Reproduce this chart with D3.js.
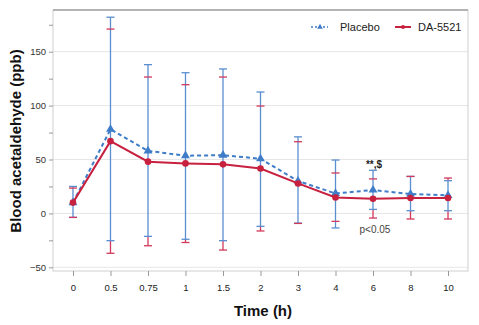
<!DOCTYPE html>
<html>
<head>
<meta charset="utf-8">
<script src="https://cdn.jsdelivr.net/npm/d3@7"></script>
<style>
  html, body { margin: 0; padding: 0; background: #fff; }
  svg { display: block; font-family: "Liberation Sans", Arial, sans-serif; }
</style>
</head>
<body>
<svg id="chart" width="479" height="325"></svg>
<script>
// Sampling times (h) and group data (mean with upper / lower error limits, ppb)
const times = ["0", "0.5", "0.75", "1", "1.5", "2", "3", "4", "6", "8", "10"];

const placeboMean  = [10, 78, 58, 53.5, 54, 50.7, 30, 18.5, 21.7, 18, 16.7];
const placeboUpper = [25, 182, 138, 130.5, 134, 112.6, 71, 49.5, 40, 34.3, 30.3];
const placeboLower = [-3.7, -25.3, -21.3, -24, -25.3, -12, -9, -13.5, 3.7, 2.5, 2.5];

const daMean  = [10, 67, 48, 46.4, 45.5, 41.7, 27.8, 14.8, 13.6, 14.3, 14.3];
const daUpper = [23.5, 171, 126.5, 119.4, 126.5, 99.6, 66.5, 37.5, 32, 34.3, 32.8];
const daLower = [-3.7, -37, -30, -27, -34, -16.3, -9.3, -7.4, -4.3, -5.2, -5.2];

const seriesNames = ["Placebo", "DA-5521"];
const yMajorTicks = [-50, 0, 50, 100, 150];
const yMinorTicks = [-25, 25, 75, 125, 175];

const blue = "#3f7dc8";
const blueBar = "#5a8ed0";
const red = "#c8203f";
const redBar = "#d2385a";

const svg = d3.select("#chart");
const panel = { left: 53, top: 10, right: 468, bottom: 271 };

const x = d3.scalePoint()
  .domain(times)
  .range([panel.left, panel.right])
  .padding(0.533);

const y = d3.scaleLinear()
  .domain([-50, 150])
  .range([267.3, 51.7]);

// Horizontal gridlines at major ticks
svg.append("g")
  .selectAll("line")
  .data(yMajorTicks)
  .join("line")
  .attr("x1", panel.left).attr("x2", panel.right)
  .attr("y1", d => y(d)).attr("y2", d => y(d))
  .attr("stroke", "#e6e6e6").attr("stroke-width", 1);

// Panel frame
svg.append("rect")
  .attr("x", panel.left).attr("y", panel.top)
  .attr("width", panel.right - panel.left)
  .attr("height", panel.bottom - panel.top)
  .attr("fill", "none").attr("stroke", "#cfcfcf").attr("stroke-width", 1);
svg.append("line")
  .attr("x1", panel.left).attr("x2", panel.right)
  .attr("y1", panel.top).attr("y2", panel.top)
  .attr("stroke", "#b3b3b3").attr("stroke-width", 2);

// Y axis (major ticks labelled, minor ticks unlabelled)
const yAxis = svg.append("g")
  .attr("transform", `translate(${panel.left},0)`)
  .call(d3.axisLeft(y).tickValues(yMajorTicks).tickSize(4).tickPadding(3)
    .tickFormat(d => d < 0 ? "\u2212" + Math.abs(d) : d));
yAxis.select(".domain").remove();
yAxis.selectAll(".tick line").attr("stroke", "#999");
yAxis.selectAll("text").attr("font-size", 9.5).attr("fill", "#333");

const yMinor = svg.append("g")
  .attr("transform", `translate(${panel.left},0)`)
  .call(d3.axisLeft(y).tickValues(yMinorTicks).tickSize(4).tickFormat(""));
yMinor.select(".domain").remove();
yMinor.selectAll(".tick line").attr("stroke", "#999");

// X axis
const xAxis = svg.append("g")
  .attr("transform", `translate(0,${panel.bottom})`)
  .call(d3.axisBottom(x).tickSize(5).tickPadding(8));
xAxis.select(".domain").remove();
xAxis.selectAll(".tick line").attr("stroke", "#999");
xAxis.selectAll("text").attr("font-size", 9.5).attr("fill", "#222");

// Axis titles
svg.append("text")
  .attr("x", 263).attr("y", 316)
  .attr("text-anchor", "middle")
  .attr("font-size", 15).attr("font-weight", "bold").attr("fill", "#111")
  .text("Time (h)");
svg.append("text")
  .attr("transform", "translate(21,141) rotate(-90)")
  .attr("text-anchor", "middle")
  .attr("font-size", 15).attr("font-weight", "bold").attr("fill", "#111")
  .text("Blood acetaldehyde (ppb)");

// Error bars: DA-5521 stems show only where they reach past the placebo stems
const bars = times.map((t, i) => ({
  t,
  pHi: placeboUpper[i], pLo: placeboLower[i],
  dHi: daUpper[i], dLo: daLower[i]
}));

const redG = svg.append("g").attr("stroke", redBar).attr("stroke-width", 1.3);
redG.selectAll("line.up").data(bars.filter(b => b.dHi > b.pHi)).join("line").attr("class", "up")
  .attr("x1", b => x(b.t)).attr("x2", b => x(b.t))
  .attr("y1", b => y(b.dHi)).attr("y2", b => y(b.pHi));
redG.selectAll("line.dn").data(bars.filter(b => b.dLo < b.pLo)).join("line").attr("class", "dn")
  .attr("x1", b => x(b.t)).attr("x2", b => x(b.t))
  .attr("y1", b => y(b.pLo)).attr("y2", b => y(b.dLo));

const blueG = svg.append("g").attr("stroke", blueBar).attr("stroke-width", 1.3);
blueG.selectAll("line").data(bars).join("line")
  .attr("x1", b => x(b.t)).attr("x2", b => x(b.t))
  .attr("y1", b => y(b.pHi)).attr("y2", b => y(b.pLo));

function caps(g, values, color) {
  g.append("g").attr("stroke", color).attr("stroke-width", 1.3)
    .selectAll("line").data(values).join("line")
    .attr("x1", d => x(d.t) - 4).attr("x2", d => x(d.t) + 4)
    .attr("y1", d => y(d.v)).attr("y2", d => y(d.v));
}
caps(svg, bars.flatMap(b => [{ t: b.t, v: b.pHi }, { t: b.t, v: b.pLo }]), blueBar);
caps(svg, bars.flatMap(b => [{ t: b.t, v: b.dHi }, { t: b.t, v: b.dLo }]), redBar);

// Mean lines
const line = d3.line().x(d => x(d.t)).y(d => y(d.v));
const placeboPts = times.map((t, i) => ({ t, v: placeboMean[i] }));
const daPts = times.map((t, i) => ({ t, v: daMean[i] }));

svg.append("path").datum(placeboPts)
  .attr("d", line).attr("fill", "none")
  .attr("stroke", blue).attr("stroke-width", 2).attr("stroke-dasharray", "4,3");
const tri = d3.symbol().type(d3.symbolTriangle).size(34);
svg.append("g").selectAll("path").data(placeboPts).join("path")
  .attr("d", tri)
  .attr("transform", d => `translate(${x(d.t)},${y(d.v)})`)
  .attr("fill", blue);

svg.append("path").datum(daPts)
  .attr("d", line).attr("fill", "none")
  .attr("stroke", red).attr("stroke-width", 2);
svg.append("g").selectAll("circle").data(daPts).join("circle")
  .attr("cx", d => x(d.t)).attr("cy", d => y(d.v)).attr("r", 3.3)
  .attr("fill", red);

// Significance annotations at 6 h
svg.append("text")
  .attr("x", x("6") + 1).attr("y", 168)
  .attr("text-anchor", "middle").attr("font-size", 10).attr("font-weight", "bold").attr("fill", "#222")
  .text("**,$");
svg.append("text")
  .attr("x", x("6") + 2).attr("y", 233)
  .attr("text-anchor", "middle").attr("font-size", 10).attr("fill", "#444")
  .text("p<0.05");

// Legend
const legend = svg.append("g");
legend.append("line")
  .attr("x1", 311).attr("x2", 328).attr("y1", 27).attr("y2", 27)
  .attr("stroke", blue).attr("stroke-width", 1.5).attr("stroke-dasharray", "2,2");
legend.append("path").attr("d", d3.symbol().type(d3.symbolTriangle).size(14))
  .attr("transform", "translate(320,27)").attr("fill", blue);
legend.append("text").attr("x", 340).attr("y", 31)
  .attr("font-size", 11).attr("fill", "#222").text(seriesNames[0]);
legend.append("line")
  .attr("x1", 395).attr("x2", 411).attr("y1", 27).attr("y2", 27)
  .attr("stroke", red).attr("stroke-width", 2);
legend.append("circle").attr("cx", 403).attr("cy", 27).attr("r", 2).attr("fill", red);
legend.append("text").attr("x", 418).attr("y", 31)
  .attr("font-size", 11).attr("fill", "#222").text(seriesNames[1]);
</script>
</body>
</html>
